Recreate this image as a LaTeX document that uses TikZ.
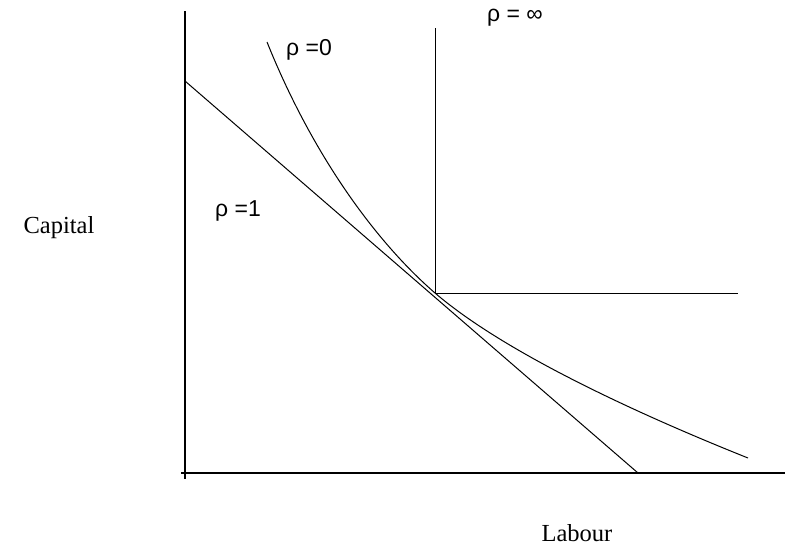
\documentclass[tikz,border=0pt]{standalone}
\usepackage{fontspec}
\setmainfont{Liberation Serif}
\newfontfamily\labsans{Liberation Sans}
\begin{document}
\begin{tikzpicture}[x=1pt,y=-1pt,
  axis/.style={line width=1.3pt},
  curveline/.style={line width=1pt},
  axislabel/.style={font=\fontsize{24.5}{28}\selectfont},
  rholabel/.style={font=\labsans\fontsize{23}{26}\selectfont}]
\useasboundingbox (0,0) rectangle (785,546);
% axes
\coordinate (ytop) at (185,11);
\coordinate (ybot) at (185,479);
\coordinate (xl) at (181,473);
\coordinate (xr) at (785,473);
\draw[axis] (ytop) -- (ybot);
\draw[axis] (xl) -- (xr);
% rho = 1 line
\coordinate (l1) at (185,81);
\coordinate (l2) at (638,473);
\draw[curveline] (l1) -- (l2);
% corner
\coordinate (corner) at (435,293);
\coordinate (ltop) at (435,28);
\coordinate (lright) at (738,293);
\draw[curveline] (ltop) -- (corner) -- (lright);
% rho = 0 curve
\coordinate (c0) at (267,42);
\coordinate (c3) at (748,458);
\draw[curveline] (c0) .. controls (312,154) and (375,241) .. (corner)
  .. controls (505,353) and (638,414) .. (c3);
% labels
\node[axislabel] (cap) at (59,228) {Capital};
\node[axislabel] (lab) at (577,533) {Labour};
\node[rholabel] (rinf) at (515,18) {ρ = ∞};
\node[rholabel] (r0) at (309,50) {ρ =0};
\node[rholabel] (r1) at (238,211) {ρ =1};
\end{tikzpicture}
\end{document}
